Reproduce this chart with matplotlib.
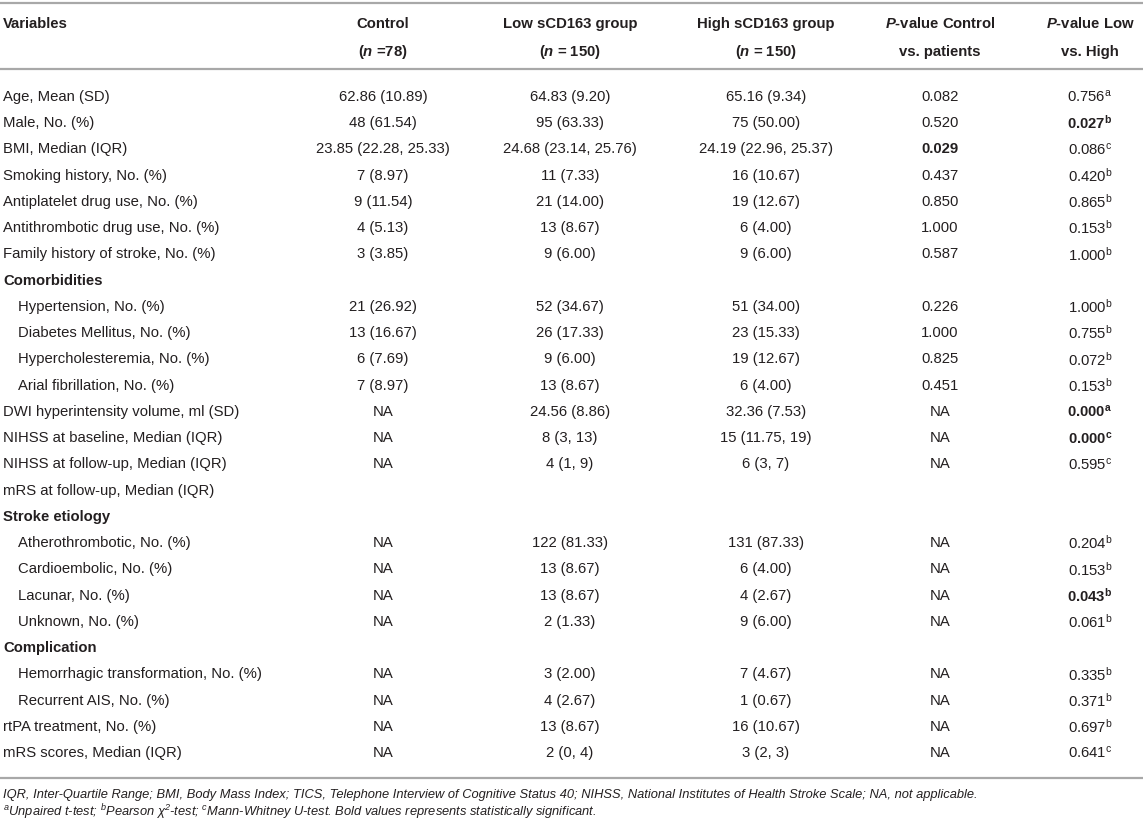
import matplotlib
matplotlib.use("Agg")
import matplotlib.pyplot as plt

plt.rcParams['font.family'] = ['Liberation Sans', 'DejaVu Sans']
plt.rcParams['mathtext.fontset'] = 'custom'
plt.rcParams['mathtext.rm'] = 'Liberation Sans'
plt.rcParams['mathtext.bf'] = 'Liberation Sans:bold'
plt.rcParams['mathtext.it'] = 'Liberation Sans:italic:bold'
plt.rcParams['mathtext.sf'] = 'Liberation Sans:italic'

# ---------------- data ----------------
header_line1 = ["Variables", "Control", "Low sCD163 group", "High sCD163 group",
                r"$\mathit{P}$-value Control", r"$\mathit{P}$-value Low"]
header_line2 = ["", r"($\mathit{n}$ =78)", r"($\mathit{n}$ = 150)", r"($\mathit{n}$ = 150)",
                "vs. patients", "vs. High"]

variables = ["Age, Mean (SD)", "Male, No. (%)", "BMI, Median (IQR)", "Smoking history, No. (%)",
             "Antiplatelet drug use, No. (%)", "Antithrombotic drug use, No. (%)",
             "Family history of stroke, No. (%)", "Comorbidities", "Hypertension, No. (%)",
             "Diabetes Mellitus, No. (%)", "Hypercholesteremia, No. (%)", "Arial fibrillation, No. (%)",
             "DWI hyperintensity volume, ml (SD)", "NIHSS at baseline, Median (IQR)",
             "NIHSS at follow-up, Median (IQR)", "mRS at follow-up, Median (IQR)", "Stroke etiology",
             "Atherothrombotic, No. (%)", "Cardioembolic, No. (%)", "Lacunar, No. (%)",
             "Unknown, No. (%)", "Complication", "Hemorrhagic transformation, No. (%)",
             "Recurrent AIS, No. (%)", "rtPA treatment, No. (%)", "mRS scores, Median (IQR)"]
section_rows = ["Comorbidities", "Stroke etiology", "Complication"]
indented_rows = ["Hypertension, No. (%)", "Diabetes Mellitus, No. (%)", "Hypercholesteremia, No. (%)",
                 "Arial fibrillation, No. (%)", "Atherothrombotic, No. (%)", "Cardioembolic, No. (%)",
                 "Lacunar, No. (%)", "Unknown, No. (%)", "Hemorrhagic transformation, No. (%)",
                 "Recurrent AIS, No. (%)"]

control = ["62.86 (10.89)", "48 (61.54)", "23.85 (22.28, 25.33)", "7 (8.97)", "9 (11.54)", "4 (5.13)",
           "3 (3.85)", "", "21 (26.92)", "13 (16.67)", "6 (7.69)", "7 (8.97)", "NA", "NA", "NA", "", "",
           "NA", "NA", "NA", "NA", "", "NA", "NA", "NA", "NA"]
low_group = ["64.83 (9.20)", "95 (63.33)", "24.68 (23.14, 25.76)", "11 (7.33)", "21 (14.00)", "13 (8.67)",
             "9 (6.00)", "", "52 (34.67)", "26 (17.33)", "9 (6.00)", "13 (8.67)", "24.56 (8.86)",
             "8 (3, 13)", "4 (1, 9)", "", "", "122 (81.33)", "13 (8.67)", "13 (8.67)", "2 (1.33)", "",
             "3 (2.00)", "4 (2.67)", "13 (8.67)", "2 (0, 4)"]
high_group = ["65.16 (9.34)", "75 (50.00)", "24.19 (22.96, 25.37)", "16 (10.67)", "19 (12.67)", "6 (4.00)",
              "9 (6.00)", "", "51 (34.00)", "23 (15.33)", "19 (12.67)", "6 (4.00)", "32.36 (7.53)",
              "15 (11.75, 19)", "6 (3, 7)", "", "", "131 (87.33)", "6 (4.00)", "4 (2.67)", "9 (6.00)", "",
              "7 (4.67)", "1 (0.67)", "16 (10.67)", "3 (2, 3)"]
p_control = ["0.082", "0.520", "0.029", "0.437", "0.850", "1.000", "0.587", "", "0.226", "1.000", "0.825",
             "0.451", "NA", "NA", "NA", "", "", "NA", "NA", "NA", "NA", "", "NA", "NA", "NA", "NA"]
p_control_bold = [False, False, True] + [False] * 23
p_low_high = ["0.756", "0.027", "0.086", "0.420", "0.865", "0.153", "1.000", "", "1.000", "0.755", "0.072",
              "0.153", "0.000", "0.000", "0.595", "", "", "0.204", "0.153", "0.043", "0.061", "",
              "0.335", "0.371", "0.697", "0.641"]
p_low_high_test = ["a", "b", "c", "b", "b", "b", "b", "", "b", "b", "b", "b", "a", "c", "c", "", "",
                   "b", "b", "b", "b", "", "b", "b", "b", "c"]
p_low_high_bold = [False, True, False, False, False, False, False, False, False, False, False, False,
                   True, True, False, False, False, False, False, True, False, False, False, False,
                   False, False]

footnote1 = ("IQR, Inter-Quartile Range; BMI, Body Mass Index; TICS, Telephone Interview of Cognitive "
             "Status 40; NIHSS, National Institutes of Health Stroke Scale; NA, not applicable.")
footnote2 = (r"$^{\mathsf{a}}$Unpaired t-test; $^{\mathsf{b}}$Pearson χ$^{\mathsf{2}}$-test; "
             r"$^{\mathsf{c}}$Mann-Whitney U-test. Bold values represents statistically significant.")

# ---------------- layout ----------------
W, H = 1143, 822
fig = plt.figure(figsize=(W / 100, H / 100), dpi=100)
ax = fig.add_axes([0, 0, 1, 1])
ax.set_xlim(0, W)
ax.set_ylim(H, 0)
ax.axis('off')

txt = '#231f20'
rule = '#a8a8a8'
fs = 10.7
fs_note = 9.3
col_x = [383, 570, 766, 940, 1090]
x_left = 3
indent = 15
y_h1, y_h2 = 24, 52
y0, pitch = 97, 26.24

ax.hlines([3, 69, 778], 0, W, colors=rule, linewidth=1.6)

ax.text(x_left, y_h1, header_line1[0], ha='left', va='center', fontsize=fs, fontweight='bold', color=txt)
for j in range(1, 6):
    ax.text(col_x[j - 1], y_h1, header_line1[j], ha='center', va='center', fontsize=fs,
            fontweight='bold', color=txt)
    ax.text(col_x[j - 1], y_h2, header_line2[j], ha='center', va='center', fontsize=fs,
            fontweight='bold', color=txt)

for i, name in enumerate(variables):
    y = y0 + i * pitch
    if name in section_rows:
        ax.text(x_left, y, name, ha='left', va='center', fontsize=fs, fontweight='bold', color=txt)
        continue
    xx = x_left + (indent if name in indented_rows else 0)
    ax.text(xx, y, name, ha='left', va='center', fontsize=fs, color=txt)
    for cx, col in zip(col_x[:3], (control, low_group, high_group)):
        if col[i]:
            ax.text(cx, y, col[i], ha='center', va='center', fontsize=fs, color=txt)
    if p_control[i]:
        ax.text(col_x[3], y, p_control[i], ha='center', va='center', fontsize=fs, color=txt,
                fontweight='bold' if p_control_bold[i] else 'normal')
    if p_low_high[i]:
        b = p_low_high_bold[i]
        sup = (r"$^{\mathbf{%s}}$" if b else r"$^{\mathrm{%s}}$") % p_low_high_test[i]
        ax.text(col_x[4], y, p_low_high[i] + sup, ha='center', va='center', fontsize=fs, color=txt,
                fontweight='bold' if b else 'normal')

ax.text(x_left, 795, footnote1, ha='left', va='center', fontsize=fs_note, style='italic', color=txt)
ax.text(x_left, 812, footnote2, ha='left', va='center', fontsize=fs_note, style='italic', color=txt)

fig.savefig("out.png", dpi=100)
